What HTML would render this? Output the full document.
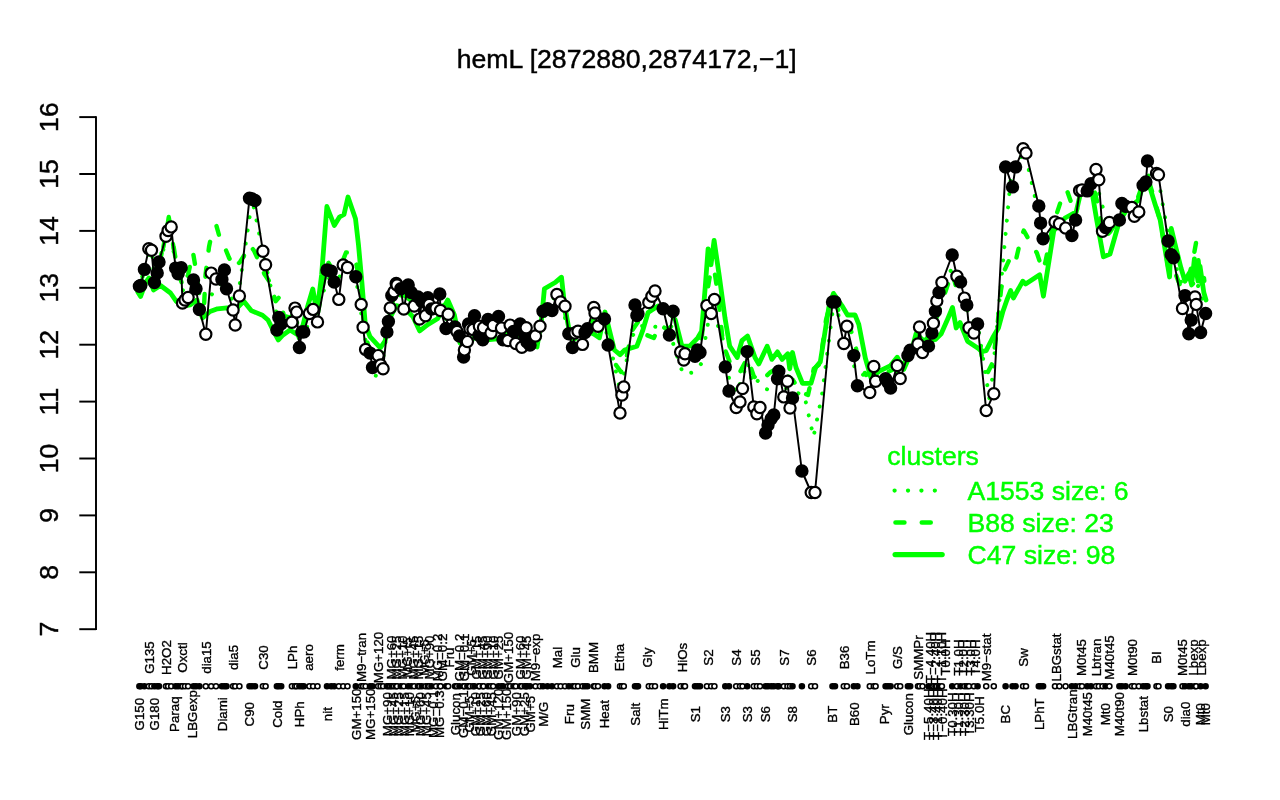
<!DOCTYPE html>
<html lang="en"><head><meta charset="utf-8"><title>hemL expression profile</title>
<style>
html,body{margin:0;padding:0;background:#fff;}
body{width:1280px;height:800px;overflow:hidden;}
svg{display:block;}
text{font-family:"Liberation Sans",Arial,Helvetica,sans-serif;}
.t{font-size:26.6px;stroke:currentColor;stroke-width:0.45px;}
.s{font-size:13.3px;stroke:#000;stroke-width:0.35px;}
.g{fill:none;stroke:#00ff00;stroke-linecap:round;stroke-linejoin:round;}
.k{fill:none;stroke:#000;stroke-width:1.95;stroke-linecap:round;stroke-linejoin:round;}
.pf{fill:#000;stroke:#000;stroke-width:2.2;}
.po{fill:#fff;stroke:#000;stroke-width:2.2;}
.qf{fill:#000;stroke:#000;stroke-width:1.6;}
.qo{fill:#fff;stroke:#000;stroke-width:1.6;}
</style></head>
<body>
<svg width="1280" height="800" viewBox="0 0 1280 800">
<rect width="1280" height="800" fill="#fff"/>
<text class="t" x="626.7" y="67.6" text-anchor="middle">hemL [2872880,2874172,−1]</text>
<g class="k" style="stroke-linecap:butt"><path d="M96 116.2 V630.1"/><path d="M79.3 629.2 H96"/><path d="M79.3 572.3 H96"/><path d="M79.3 515.4 H96"/><path d="M79.3 458.5 H96"/><path d="M79.3 401.6 H96"/><path d="M79.3 344.7 H96"/><path d="M79.3 287.8 H96"/><path d="M79.3 230.9 H96"/><path d="M79.3 174 H96"/><path d="M79.3 117.1 H96"/></g>
<text class="t" text-anchor="middle" transform="translate(58 629.2) rotate(-90)">7</text>
<text class="t" text-anchor="middle" transform="translate(58 572.3) rotate(-90)">8</text>
<text class="t" text-anchor="middle" transform="translate(58 515.4) rotate(-90)">9</text>
<text class="t" text-anchor="middle" transform="translate(58 458.5) rotate(-90)">10</text>
<text class="t" text-anchor="middle" transform="translate(58 401.6) rotate(-90)">11</text>
<text class="t" text-anchor="middle" transform="translate(58 344.7) rotate(-90)">12</text>
<text class="t" text-anchor="middle" transform="translate(58 287.8) rotate(-90)">13</text>
<text class="t" text-anchor="middle" transform="translate(58 230.9) rotate(-90)">14</text>
<text class="t" text-anchor="middle" transform="translate(58 174) rotate(-90)">15</text>
<text class="t" text-anchor="middle" transform="translate(58 117.1) rotate(-90)">16</text>
<path class="g" stroke-width="4" stroke-dasharray="0.01 13.3" d="M141.5 280.4L150.1 249.5L156.9 272.5L168.5 231.2L178.3 269.9L185.2 300.2L196.3 292.8L211 295.4L224.3 279.4L235.9 310.3L252.2 199.2L264.2 258L279 323.8L294.5 314.2L301.7 337.1L313.3 314.9L330.8 274.4L343.2 277.3L355.8 276.8L363.3 327L371.2 374.3L380.6 377.1L389.9 310L395.8 286.8L402.2 298.9L412 297.4L419.8 305.9L427.5 306L433.8 308.6L440.1 302.2L447.1 321.4L456 329.2L463.7 346.1L470 326.6L478.1 325.9L483.1 333.8L490.1 324.4L501 328.1L511.2 332.1L518 333.8L524.2 336.8L528.5 343.5L537.8 331.1L547.5 310.2L560.8 300.8L570.6 340.6L578.5 336.2L586.2 330.6L595.6 315.6L606.3 332L610 345L620.5 392L631 338L633 335L640 326L650 325.6L661 328L668 333L672 340L683 374L693 372.5L701 364L710.9 306.2L725 345L729 378L737 393L742 378L747.5 362L753 385L758 380.6L763 387.5L770 390.6L778 381L786 388L795 392L804.4 395.6L813.5 437L822 395L833.8 301.9L845.3 334.9L855.6 370.7L873 380.1L888.1 383.1L898.8 372.1L909 352.9L920 341.1L931.8 331.4L937.1 301.6L941.9 282.5L954.6 265.6L962.5 290L969.1 317.7L977.6 324L990 402.2L1011.2 173.6L1024.5 150.9L1040.8 222.6L1060 224.6L1073.8 227.8L1080.8 190.3L1089.1 187.3L1099.1 193.5L1107.5 225L1122.3 209.9L1135 211.9L1145.5 176.1L1157.5 174.1L1170.9 251.2L1182.5 286.5L1188.3 294.4L1195.6 278.6L1203.1 301"/>
<path class="g" stroke-width="4.4" stroke-dasharray="9 17.3" stroke-dashoffset="13" d="M138 289L143 275L148 262L152 262L156 278L160 262L163 245L168.8 216L173.4 245L177 268L183 287L188 275L193 252.5L196 270L200 302L203.5 318L205.5 275L209 247L211.5 235L216.5 226L219.4 236.5L225 247.8L228.8 257.2L234 268L240 262L244.7 254.4L249.5 245L254 250.6L257.8 259L264.4 274L270 282.5L275.6 301.2L279.4 297L284 316L292 318L299 338L305 322L311 310L317 318L323 285L328 262L334 272L340 268L346 252.5L350.6 252.5L356 262L361 290L364 325L368 345L373 362L381 360L386 335L391 305L398 292L405 296L415 304L422 318L430 310L440 306L448 305L455 322L462 348L470 335L480 332L492 332L505 334L520 332L532 340L538 338L543 312L550 304L558 292L563 298L567 325L573 340L580 336L588 330L595 318L600 330L606 322L610 342L616 365L621 372L626 360L630 340L632.5 330L638 322L645 334.4L653.8 338L660 325L668 330L675 322L681 350L688 358L696 352L702 335L706 300L710 275L714 268L718 295L722.5 338.8L726.2 352.5L732 368L740 372L747.5 358L753.8 376.2L760 382L765 377.5L770 372.5L778 368L786 375L793 380L800 392L808 395L813.8 368.8L820 363.8L826 320L831.2 300L836.2 305L843 322L850 328L855 342.5L858 360L866 375L874 372L884 374L892 370L899 366L906 358L912 348L918 338L926 340L934 325L940 308L946 290L952 272L957 290L962 296L967 312L972 328L978 330L983 365L988 372L993 362L998 320L1001 290L1004.6 270L1012.5 253L1016.2 258.8L1021 238L1023.8 230.6L1032.2 245.6L1036.9 253L1042.5 270L1045.3 262.5L1053 225L1062.2 197L1066.9 190.3L1072 205L1078 192L1086 186L1093 185L1098 205L1104 238L1110 232L1119 218L1126 205L1135 206L1142 186L1148 178L1154 198L1160 220L1165 248L1170 278L1176 275L1181 288L1187 282L1192 265L1196 243L1198 256L1201 285L1204 278L1206 296"/>
<path class="g" stroke-width="4.4" d="M166.3 233L168.75 217L170.3 226M163.4 247L164.6 240M173 244L173.8 249"/>
<path class="g" stroke-width="4.8" d="M137.8 292L140.6 296.5L146 282L149 278L153.5 290L160.5 285.5L170.5 293L176.3 301.3L182 306.5L190 305L197 300L202.5 318L210 311.5L217.5 308.8L227 307.8L236 309L243.8 301.3L251.2 310.6L262.5 315.3L268 320L273 330L278.4 340L283 335L290 330L298 335L303 325L307.5 306.9L312.8 289L316.9 312.5L321.6 275L326.9 206.5L334.3 225.5L339.5 217L344 214.5L348 197L355.5 218.8L358.5 245L361.9 282.5L365.3 324.4L370 336.6L380.3 347.8L385 341.2L390 318L396.2 305.6L403.8 307.5L413.1 316.9L419.7 330.9L428.1 324.4L437.5 318.8L447.8 300L454.4 315L460 343L466 348L475 336L485 340L492 339.4L505 338L520 335.6L530 343L537 347L541.6 318.8L544.4 288.8L555.6 282.2L561.5 277.2L564.3 303L568.6 327.5L575 334L585 330L593.8 334L599.4 337.8L605 312L609.7 331.2L614.4 350L620 354.7L624.7 350L636.9 346.2L642.5 331.2L648.1 312.5L653.8 308.8L658 306L666 308L675.3 320L681.9 346.2L690 346L697.8 337.8L701.6 331.2L705.3 286.2L708.1 248.8L711 264.7L714.1 240.3L719.4 276.9L725 318L729.7 346.2L737.2 357.5L741.9 340.6L747.5 336L755 357.5L758.8 364L767.2 346.2L771.9 359.4L777.5 351.9L782.2 359.4L787.8 353.8L789.7 368.8L792.5 352.5L796 367.5L802.5 383.4L811 383.4L815.6 367.5L820.3 361.9L828.8 307.5L833.4 293.4L841.9 305.6L847.5 315L855 315L858.8 324.4L865.3 358L871 377.8L879.4 371.2L890.6 365.6L897.2 357.2L903.8 369.4L911.2 352.5L916 333.8L925 342L935.6 339.4L941.2 333.8L947.8 318.8L952.5 307.5L956.2 328L960 322.5L967.5 341.2L978.8 348.8L981.6 351.6L986.2 350.6L992.8 337.5L998.4 328L1003 311.2L1006.9 300L1010.6 290.6L1013.4 298L1022.8 281.2L1025.6 284L1039.7 274.7L1043.4 296.2L1053.8 230.6L1065 218L1076.2 211.9L1081 191.2L1092.2 193L1096.9 221.2L1103.4 256.9L1110 254L1119.4 221.2L1128 208L1138 200.6L1141.9 189.4L1149.4 185.6L1155 204L1160.2 220L1169.6 277L1171.3 228.5L1176 248L1181 268L1185 281.2L1188.8 273.8L1191.6 285L1194.4 258.8L1198 281.2L1200 266.2L1203.8 292.5L1206 300"/>
<path class="k" d="M139.4 286.3L140.8 285.5L144.4 269.4L148.8 248.8L151.5 250.2L154.4 282.5L157.2 273.1L159 261.9L166 236.2L168.1 230.6L171.2 226.9L175.6 268.1L178.1 273.8L181.2 267.8L182.5 303.1L185 300L188.1 297.5L193.5 280L196 288.8L199.4 309.5L205.8 334.2L211.2 273.1L216 279L221.9 279.4L224.4 270L226.5 288.8L233.1 310L235.2 325L239.4 296L249.5 198.2L252 199L255 200.5L262.9 251.2L265.6 264.8L276.9 330L278.8 317.5L281.2 323.8L291.9 322.2L295 308.1L296.6 312.1L299.4 347.5L301.9 331.9L303.8 331.9L309.4 313.5L313.1 309.4L317.5 321.9L327 270L331.2 271.2L334.2 282L338.8 299.4L343.2 265L347.5 267.5L355.8 276.8L361.2 304.4L363.1 327.2L365.6 349.4L370 353.1L372.5 367.5L378.1 355.6L380.6 365L383.1 368.8L386.9 331.9L388.4 321.5L390.2 307.9L391.8 295.5L394 291.8L396.2 283.5L397 285L400.8 288.8L403.8 309L408.2 285L411.2 292.5L414.2 306L418 297L419.5 319.1L421.8 301.5L425.5 315.8L427.8 297.8L429.2 304.5L431.5 309L436 308.2L439.8 294L440.5 310.5L446 328.5L448.2 314.2L455 327L457 331.5L459.5 336L463.6 357L464.4 349.9L467.4 341.6L468.5 324L470 328.9L473 329.6L474.5 315.8L479 335.2L479.4 326.2L482.8 339.8L483.5 327.8L488 319.5L491 333L493.2 325.5L498.5 316.5L501.5 328.1L503 339.8L507.9 340.5L510.1 325.1L513.5 331.5L515.8 343.5L520.2 324L521.8 347.2L524.8 335.2L526.2 327.8L527 342L530 345L535.5 336L540 326.2L543 311.2L547.5 308.8L552 310.6L556.9 294.4L560.6 301.9L565 306.2L568.8 333.8L572.5 347.5L575 333L578 331.2L582.5 344.4L585 332.5L587.5 328.8L593.8 307.5L595 313L598 326.2L604.5 319L608.1 345L620 413.1L621.9 395L623.8 386.9L635 305L636.9 315.6L638 313.8L648.8 302.5L651.9 296.2L655 291L663.1 308.8L669.4 335L673.1 311.2L680.6 351.9L683.8 360L685 353.8L695 356.2L697.5 350L700 352.5L706.9 305.6L711.2 313.5L714.4 299.4L725.3 366.9L729 391L736.2 407.5L740 401.9L742.5 388.6L747.2 351.6L753.8 406.9L756.9 413.8L760 407.5L765.6 433.1L768 425L771.2 418.8L773.8 415L777.5 378.8L778.8 371.2L783.8 396.9L787.5 381.2L790 408L792.5 398L801.9 471L811.2 492.5L815 492.5L832.5 301.9L835 301.9L843.8 343.5L846.9 326.2L853.8 355.6L857.4 385.8L869.8 392.5L873.8 366.5L875.6 381.2L885.6 378.8L888 382.5L890.6 388L897.2 365.6L900.2 378.5L907.9 355.5L910.2 350.3L918 343.9L919.5 327L922.5 352.5L928.5 346.1L931.9 333L933.4 323.2L935.4 311.2L936.8 301L939 292.5L941.9 282.5L952.2 255L956.9 276.2L960.6 281.9L964.4 298.1L966.8 305.1L969 327.8L973.9 333L977.6 324L986.2 410.6L993.8 393.8L1005.6 166.9L1012.5 186.9L1015.6 166.9L1023.1 148.8L1026 153.1L1038.8 206L1040.6 223.1L1043.1 238.8L1055 221.9L1059.4 223.8L1065.6 228.1L1071.9 235.6L1075.6 220L1079.6 190.6L1082 190L1087.2 190.9L1091 183.8L1096 169.4L1098.8 179.8L1102.5 231.2L1105.6 227.5L1109.4 222.5L1119.4 220L1121.9 203.5L1125.6 206.2L1131.9 207.5L1134.4 216.2L1138.8 211.9L1143.1 185.3L1145.9 181.9L1147.5 161L1156.5 173.5L1158.5 174.8L1168.1 241L1171.2 254.7L1173.4 257.8L1182.5 308.5L1185 295.6L1188.8 333.8L1191.2 320L1195 296.9L1196.2 304.4L1200.6 332.5L1205.6 313.5"/>
<g><circle class="pf" cx="139.4" cy="286.3" r="5.6"/><circle class="pf" cx="140.8" cy="285.5" r="5.6"/><circle class="pf" cx="144.4" cy="269.4" r="5.6"/><circle class="po" cx="148.8" cy="248.8" r="5.6"/><circle class="po" cx="151.5" cy="250.2" r="5.6"/><circle class="pf" cx="154.4" cy="282.5" r="5.6"/><circle class="pf" cx="157.2" cy="273.1" r="5.6"/><circle class="pf" cx="159" cy="261.9" r="5.6"/><circle class="po" cx="166" cy="236.2" r="5.6"/><circle class="po" cx="168.1" cy="230.6" r="5.6"/><circle class="po" cx="171.2" cy="226.9" r="5.6"/><circle class="pf" cx="175.6" cy="268.1" r="5.6"/><circle class="pf" cx="178.1" cy="273.8" r="5.6"/><circle class="pf" cx="181.2" cy="267.8" r="5.6"/><circle class="po" cx="182.5" cy="303.1" r="5.6"/><circle class="po" cx="185" cy="300" r="5.6"/><circle class="po" cx="188.1" cy="297.5" r="5.6"/><circle class="pf" cx="193.5" cy="280" r="5.6"/><circle class="pf" cx="196" cy="288.8" r="5.6"/><circle class="pf" cx="199.4" cy="309.5" r="5.6"/><circle class="po" cx="205.8" cy="334.2" r="5.6"/><circle class="po" cx="211.2" cy="273.1" r="5.6"/><circle class="po" cx="216" cy="279" r="5.6"/><circle class="pf" cx="221.9" cy="279.4" r="5.6"/><circle class="pf" cx="224.4" cy="270" r="5.6"/><circle class="pf" cx="226.5" cy="288.8" r="5.6"/><circle class="po" cx="233.1" cy="310" r="5.6"/><circle class="po" cx="235.2" cy="325" r="5.6"/><circle class="po" cx="239.4" cy="296" r="5.6"/><circle class="pf" cx="249.5" cy="198.2" r="5.6"/><circle class="pf" cx="252" cy="199" r="5.6"/><circle class="pf" cx="255" cy="200.5" r="5.6"/><circle class="po" cx="262.9" cy="251.2" r="5.6"/><circle class="po" cx="265.6" cy="264.8" r="5.6"/><circle class="pf" cx="276.9" cy="330" r="5.6"/><circle class="pf" cx="278.8" cy="317.5" r="5.6"/><circle class="pf" cx="281.2" cy="323.8" r="5.6"/><circle class="po" cx="291.9" cy="322.2" r="5.6"/><circle class="po" cx="295" cy="308.1" r="5.6"/><circle class="po" cx="296.6" cy="312.1" r="5.6"/><circle class="pf" cx="299.4" cy="347.5" r="5.6"/><circle class="pf" cx="301.9" cy="331.9" r="5.6"/><circle class="pf" cx="303.8" cy="331.9" r="5.6"/><circle class="po" cx="309.4" cy="313.5" r="5.6"/><circle class="po" cx="313.1" cy="309.4" r="5.6"/><circle class="po" cx="317.5" cy="321.9" r="5.6"/><circle class="pf" cx="327" cy="270" r="5.6"/><circle class="pf" cx="331.2" cy="271.2" r="5.6"/><circle class="pf" cx="334.2" cy="282" r="5.6"/><circle class="po" cx="338.8" cy="299.4" r="5.6"/><circle class="po" cx="343.2" cy="265" r="5.6"/><circle class="po" cx="347.5" cy="267.5" r="5.6"/><circle class="pf" cx="355.8" cy="276.8" r="5.6"/><circle class="po" cx="361.2" cy="304.4" r="5.6"/><circle class="po" cx="363.1" cy="327.2" r="5.6"/><circle class="po" cx="365.6" cy="349.4" r="5.6"/><circle class="pf" cx="370" cy="353.1" r="5.6"/><circle class="pf" cx="372.5" cy="367.5" r="5.6"/><circle class="po" cx="378.1" cy="355.6" r="5.6"/><circle class="po" cx="380.6" cy="365" r="5.6"/><circle class="po" cx="383.1" cy="368.8" r="5.6"/><circle class="pf" cx="386.9" cy="331.9" r="5.6"/><circle class="pf" cx="388.4" cy="321.5" r="5.6"/><circle class="po" cx="390.2" cy="307.9" r="5.6"/><circle class="pf" cx="391.8" cy="295.5" r="5.6"/><circle class="po" cx="394" cy="291.8" r="5.6"/><circle class="pf" cx="396.2" cy="283.5" r="5.6"/><circle class="po" cx="397" cy="285" r="5.6"/><circle class="pf" cx="400.8" cy="288.8" r="5.6"/><circle class="po" cx="403.8" cy="309" r="5.6"/><circle class="pf" cx="408.2" cy="285" r="5.6"/><circle class="pf" cx="411.2" cy="292.5" r="5.6"/><circle class="po" cx="414.2" cy="306" r="5.6"/><circle class="pf" cx="418" cy="297" r="5.6"/><circle class="po" cx="419.5" cy="319.1" r="5.6"/><circle class="pf" cx="421.8" cy="301.5" r="5.6"/><circle class="po" cx="425.5" cy="315.8" r="5.6"/><circle class="pf" cx="427.8" cy="297.8" r="5.6"/><circle class="po" cx="429.2" cy="304.5" r="5.6"/><circle class="pf" cx="431.5" cy="309" r="5.6"/><circle class="po" cx="436" cy="308.2" r="5.6"/><circle class="pf" cx="439.8" cy="294" r="5.6"/><circle class="po" cx="440.5" cy="310.5" r="5.6"/><circle class="pf" cx="446" cy="328.5" r="5.6"/><circle class="po" cx="448.2" cy="314.2" r="5.6"/><circle class="pf" cx="455" cy="327" r="5.6"/><circle class="po" cx="457" cy="331.5" r="5.6"/><circle class="pf" cx="459.5" cy="336" r="5.6"/><circle class="pf" cx="463.6" cy="357" r="5.6"/><circle class="po" cx="464.4" cy="349.9" r="5.6"/><circle class="po" cx="467.4" cy="341.6" r="5.6"/><circle class="pf" cx="468.5" cy="324" r="5.6"/><circle class="po" cx="470" cy="328.9" r="5.6"/><circle class="po" cx="473" cy="329.6" r="5.6"/><circle class="pf" cx="474.5" cy="315.8" r="5.6"/><circle class="pf" cx="479" cy="335.2" r="5.6"/><circle class="po" cx="479.4" cy="326.2" r="5.6"/><circle class="pf" cx="482.8" cy="339.8" r="5.6"/><circle class="po" cx="483.5" cy="327.8" r="5.6"/><circle class="pf" cx="488" cy="319.5" r="5.6"/><circle class="po" cx="491" cy="333" r="5.6"/><circle class="po" cx="493.2" cy="325.5" r="5.6"/><circle class="pf" cx="498.5" cy="316.5" r="5.6"/><circle class="po" cx="501.5" cy="328.1" r="5.6"/><circle class="pf" cx="503" cy="339.8" r="5.6"/><circle class="po" cx="507.9" cy="340.5" r="5.6"/><circle class="po" cx="510.1" cy="325.1" r="5.6"/><circle class="pf" cx="513.5" cy="331.5" r="5.6"/><circle class="po" cx="515.8" cy="343.5" r="5.6"/><circle class="pf" cx="520.2" cy="324" r="5.6"/><circle class="po" cx="521.8" cy="347.2" r="5.6"/><circle class="pf" cx="524.8" cy="335.2" r="5.6"/><circle class="po" cx="526.2" cy="327.8" r="5.6"/><circle class="pf" cx="527" cy="342" r="5.6"/><circle class="pf" cx="530" cy="345" r="5.6"/><circle class="po" cx="535.5" cy="336" r="5.6"/><circle class="po" cx="540" cy="326.2" r="5.6"/><circle class="pf" cx="543" cy="311.2" r="5.6"/><circle class="pf" cx="547.5" cy="308.8" r="5.6"/><circle class="pf" cx="552" cy="310.6" r="5.6"/><circle class="po" cx="556.9" cy="294.4" r="5.6"/><circle class="po" cx="560.6" cy="301.9" r="5.6"/><circle class="po" cx="565" cy="306.2" r="5.6"/><circle class="pf" cx="568.8" cy="333.8" r="5.6"/><circle class="pf" cx="572.5" cy="347.5" r="5.6"/><circle class="po" cx="575" cy="333" r="5.6"/><circle class="po" cx="578" cy="331.2" r="5.6"/><circle class="po" cx="582.5" cy="344.4" r="5.6"/><circle class="pf" cx="585" cy="332.5" r="5.6"/><circle class="pf" cx="587.5" cy="328.8" r="5.6"/><circle class="po" cx="593.8" cy="307.5" r="5.6"/><circle class="po" cx="595" cy="313" r="5.6"/><circle class="po" cx="598" cy="326.2" r="5.6"/><circle class="pf" cx="604.5" cy="319" r="5.6"/><circle class="pf" cx="608.1" cy="345" r="5.6"/><circle class="po" cx="620" cy="413.1" r="5.6"/><circle class="po" cx="621.9" cy="395" r="5.6"/><circle class="po" cx="623.8" cy="386.9" r="5.6"/><circle class="pf" cx="635" cy="305" r="5.6"/><circle class="pf" cx="636.9" cy="315.6" r="5.6"/><circle class="pf" cx="638" cy="313.8" r="5.6"/><circle class="po" cx="648.8" cy="302.5" r="5.6"/><circle class="po" cx="651.9" cy="296.2" r="5.6"/><circle class="po" cx="655" cy="291" r="5.6"/><circle class="pf" cx="663.1" cy="308.8" r="5.6"/><circle class="pf" cx="669.4" cy="335" r="5.6"/><circle class="pf" cx="673.1" cy="311.2" r="5.6"/><circle class="po" cx="680.6" cy="351.9" r="5.6"/><circle class="po" cx="683.8" cy="360" r="5.6"/><circle class="po" cx="685" cy="353.8" r="5.6"/><circle class="pf" cx="695" cy="356.2" r="5.6"/><circle class="pf" cx="697.5" cy="350" r="5.6"/><circle class="pf" cx="700" cy="352.5" r="5.6"/><circle class="po" cx="706.9" cy="305.6" r="5.6"/><circle class="po" cx="711.2" cy="313.5" r="5.6"/><circle class="po" cx="714.4" cy="299.4" r="5.6"/><circle class="pf" cx="725.3" cy="366.9" r="5.6"/><circle class="pf" cx="729" cy="391" r="5.6"/><circle class="po" cx="736.2" cy="407.5" r="5.6"/><circle class="po" cx="740" cy="401.9" r="5.6"/><circle class="po" cx="742.5" cy="388.6" r="5.6"/><circle class="pf" cx="747.2" cy="351.6" r="5.6"/><circle class="po" cx="753.8" cy="406.9" r="5.6"/><circle class="po" cx="756.9" cy="413.8" r="5.6"/><circle class="po" cx="760" cy="407.5" r="5.6"/><circle class="pf" cx="765.6" cy="433.1" r="5.6"/><circle class="pf" cx="768" cy="425" r="5.6"/><circle class="pf" cx="771.2" cy="418.8" r="5.6"/><circle class="pf" cx="773.8" cy="415" r="5.6"/><circle class="pf" cx="777.5" cy="378.8" r="5.6"/><circle class="pf" cx="778.8" cy="371.2" r="5.6"/><circle class="po" cx="783.8" cy="396.9" r="5.6"/><circle class="po" cx="787.5" cy="381.2" r="5.6"/><circle class="po" cx="790" cy="408" r="5.6"/><circle class="pf" cx="792.5" cy="398" r="5.6"/><circle class="pf" cx="801.9" cy="471" r="5.6"/><circle class="po" cx="811.2" cy="492.5" r="5.6"/><circle class="po" cx="815" cy="492.5" r="5.6"/><circle class="pf" cx="832.5" cy="301.9" r="5.6"/><circle class="pf" cx="835" cy="301.9" r="5.6"/><circle class="po" cx="843.8" cy="343.5" r="5.6"/><circle class="po" cx="846.9" cy="326.2" r="5.6"/><circle class="pf" cx="853.8" cy="355.6" r="5.6"/><circle class="pf" cx="857.4" cy="385.8" r="5.6"/><circle class="po" cx="869.8" cy="392.5" r="5.6"/><circle class="po" cx="873.8" cy="366.5" r="5.6"/><circle class="po" cx="875.6" cy="381.2" r="5.6"/><circle class="pf" cx="885.6" cy="378.8" r="5.6"/><circle class="pf" cx="888" cy="382.5" r="5.6"/><circle class="pf" cx="890.6" cy="388" r="5.6"/><circle class="po" cx="897.2" cy="365.6" r="5.6"/><circle class="po" cx="900.2" cy="378.5" r="5.6"/><circle class="pf" cx="907.9" cy="355.5" r="5.6"/><circle class="pf" cx="910.2" cy="350.3" r="5.6"/><circle class="po" cx="918" cy="343.9" r="5.6"/><circle class="po" cx="919.5" cy="327" r="5.6"/><circle class="po" cx="922.5" cy="352.5" r="5.6"/><circle class="pf" cx="928.5" cy="346.1" r="5.6"/><circle class="pf" cx="931.9" cy="333" r="5.6"/><circle class="po" cx="933.4" cy="323.2" r="5.6"/><circle class="pf" cx="935.4" cy="311.2" r="5.6"/><circle class="po" cx="936.8" cy="301" r="5.6"/><circle class="pf" cx="939" cy="292.5" r="5.6"/><circle class="po" cx="941.9" cy="282.5" r="5.6"/><circle class="pf" cx="952.2" cy="255" r="5.6"/><circle class="po" cx="956.9" cy="276.2" r="5.6"/><circle class="pf" cx="960.6" cy="281.9" r="5.6"/><circle class="po" cx="964.4" cy="298.1" r="5.6"/><circle class="pf" cx="966.8" cy="305.1" r="5.6"/><circle class="po" cx="969" cy="327.8" r="5.6"/><circle class="po" cx="973.9" cy="333" r="5.6"/><circle class="pf" cx="977.6" cy="324" r="5.6"/><circle class="po" cx="986.2" cy="410.6" r="5.6"/><circle class="po" cx="993.8" cy="393.8" r="5.6"/><circle class="pf" cx="1005.6" cy="166.9" r="5.6"/><circle class="pf" cx="1012.5" cy="186.9" r="5.6"/><circle class="pf" cx="1015.6" cy="166.9" r="5.6"/><circle class="po" cx="1023.1" cy="148.8" r="5.6"/><circle class="po" cx="1026" cy="153.1" r="5.6"/><circle class="pf" cx="1038.8" cy="206" r="5.6"/><circle class="pf" cx="1040.6" cy="223.1" r="5.6"/><circle class="pf" cx="1043.1" cy="238.8" r="5.6"/><circle class="po" cx="1055" cy="221.9" r="5.6"/><circle class="po" cx="1059.4" cy="223.8" r="5.6"/><circle class="po" cx="1065.6" cy="228.1" r="5.6"/><circle class="pf" cx="1071.9" cy="235.6" r="5.6"/><circle class="pf" cx="1075.6" cy="220" r="5.6"/><circle class="po" cx="1079.6" cy="190.6" r="5.6"/><circle class="po" cx="1082" cy="190" r="5.6"/><circle class="pf" cx="1087.2" cy="190.9" r="5.6"/><circle class="pf" cx="1091" cy="183.8" r="5.6"/><circle class="po" cx="1096" cy="169.4" r="5.6"/><circle class="po" cx="1098.8" cy="179.8" r="5.6"/><circle class="po" cx="1102.5" cy="231.2" r="5.6"/><circle class="pf" cx="1105.6" cy="227.5" r="5.6"/><circle class="po" cx="1109.4" cy="222.5" r="5.6"/><circle class="pf" cx="1119.4" cy="220" r="5.6"/><circle class="pf" cx="1121.9" cy="203.5" r="5.6"/><circle class="pf" cx="1125.6" cy="206.2" r="5.6"/><circle class="po" cx="1131.9" cy="207.5" r="5.6"/><circle class="po" cx="1134.4" cy="216.2" r="5.6"/><circle class="po" cx="1138.8" cy="211.9" r="5.6"/><circle class="pf" cx="1143.1" cy="185.3" r="5.6"/><circle class="pf" cx="1145.9" cy="181.9" r="5.6"/><circle class="pf" cx="1147.5" cy="161" r="5.6"/><circle class="po" cx="1156.5" cy="173.5" r="5.6"/><circle class="po" cx="1158.5" cy="174.8" r="5.6"/><circle class="pf" cx="1168.1" cy="241" r="5.6"/><circle class="pf" cx="1171.2" cy="254.7" r="5.6"/><circle class="pf" cx="1173.4" cy="257.8" r="5.6"/><circle class="po" cx="1182.5" cy="308.5" r="5.6"/><circle class="pf" cx="1185" cy="295.6" r="5.6"/><circle class="pf" cx="1188.8" cy="333.8" r="5.6"/><circle class="pf" cx="1191.2" cy="320" r="5.6"/><circle class="po" cx="1195" cy="296.9" r="5.6"/><circle class="po" cx="1196.2" cy="304.4" r="5.6"/><circle class="pf" cx="1200.6" cy="332.5" r="5.6"/><circle class="pf" cx="1205.6" cy="313.5" r="5.6"/></g>
<g fill="#00ff00" color="#00ff00" stroke="#00ff00"><text class="t" x="887.3" y="465">clusters</text><text class="t" x="967.5" y="500">A1553 size: 6</text><text class="t" x="967.5" y="531.8">B88 size: 23</text><text class="t" x="967.5" y="563.7">C47 size: 98</text></g>
<path class="g" stroke-width="4.3" stroke-dasharray="0.01 13.4" d="M894.6 490.6H942"/>
<path class="g" stroke-width="4.6" stroke-dasharray="8.9 17.4" d="M895.5 522.5H942"/>
<path class="g" stroke-width="5.2" d="M895.1 554.6H942.2"/>
<g><circle class="qf" cx="139.4" cy="686.2" r="2.5"/><circle class="qf" cx="140.8" cy="686.2" r="2.5"/><circle class="qf" cx="144.4" cy="686.2" r="2.5"/><circle class="qo" cx="148.8" cy="686.2" r="2.5"/><circle class="qo" cx="151.5" cy="686.2" r="2.5"/><circle class="qf" cx="154.4" cy="686.2" r="2.5"/><circle class="qf" cx="157.2" cy="686.2" r="2.5"/><circle class="qf" cx="159" cy="686.2" r="2.5"/><circle class="qo" cx="166" cy="686.2" r="2.5"/><circle class="qo" cx="168.1" cy="686.2" r="2.5"/><circle class="qo" cx="171.2" cy="686.2" r="2.5"/><circle class="qf" cx="175.6" cy="686.2" r="2.5"/><circle class="qf" cx="178.1" cy="686.2" r="2.5"/><circle class="qf" cx="181.2" cy="686.2" r="2.5"/><circle class="qo" cx="182.5" cy="686.2" r="2.5"/><circle class="qo" cx="185" cy="686.2" r="2.5"/><circle class="qo" cx="188.1" cy="686.2" r="2.5"/><circle class="qf" cx="193.5" cy="686.2" r="2.5"/><circle class="qf" cx="196" cy="686.2" r="2.5"/><circle class="qf" cx="199.4" cy="686.2" r="2.5"/><circle class="qo" cx="205.8" cy="686.2" r="2.5"/><circle class="qo" cx="211.2" cy="686.2" r="2.5"/><circle class="qo" cx="216" cy="686.2" r="2.5"/><circle class="qf" cx="221.9" cy="686.2" r="2.5"/><circle class="qf" cx="224.4" cy="686.2" r="2.5"/><circle class="qf" cx="226.5" cy="686.2" r="2.5"/><circle class="qo" cx="233.1" cy="686.2" r="2.5"/><circle class="qo" cx="235.2" cy="686.2" r="2.5"/><circle class="qo" cx="239.4" cy="686.2" r="2.5"/><circle class="qf" cx="249.5" cy="686.2" r="2.5"/><circle class="qf" cx="252" cy="686.2" r="2.5"/><circle class="qf" cx="255" cy="686.2" r="2.5"/><circle class="qo" cx="262.9" cy="686.2" r="2.5"/><circle class="qo" cx="265.6" cy="686.2" r="2.5"/><circle class="qf" cx="276.9" cy="686.2" r="2.5"/><circle class="qf" cx="278.8" cy="686.2" r="2.5"/><circle class="qf" cx="281.2" cy="686.2" r="2.5"/><circle class="qo" cx="291.9" cy="686.2" r="2.5"/><circle class="qo" cx="295" cy="686.2" r="2.5"/><circle class="qo" cx="296.6" cy="686.2" r="2.5"/><circle class="qf" cx="299.4" cy="686.2" r="2.5"/><circle class="qf" cx="301.9" cy="686.2" r="2.5"/><circle class="qf" cx="303.8" cy="686.2" r="2.5"/><circle class="qo" cx="309.4" cy="686.2" r="2.5"/><circle class="qo" cx="313.1" cy="686.2" r="2.5"/><circle class="qo" cx="317.5" cy="686.2" r="2.5"/><circle class="qf" cx="327" cy="686.2" r="2.5"/><circle class="qf" cx="331.2" cy="686.2" r="2.5"/><circle class="qf" cx="334.2" cy="686.2" r="2.5"/><circle class="qo" cx="338.8" cy="686.2" r="2.5"/><circle class="qo" cx="343.2" cy="686.2" r="2.5"/><circle class="qo" cx="347.5" cy="686.2" r="2.5"/><circle class="qf" cx="355.8" cy="686.2" r="2.5"/><circle class="qo" cx="361.2" cy="686.2" r="2.5"/><circle class="qo" cx="363.1" cy="686.2" r="2.5"/><circle class="qo" cx="365.6" cy="686.2" r="2.5"/><circle class="qf" cx="370" cy="686.2" r="2.5"/><circle class="qf" cx="372.5" cy="686.2" r="2.5"/><circle class="qo" cx="378.1" cy="686.2" r="2.5"/><circle class="qo" cx="380.6" cy="686.2" r="2.5"/><circle class="qo" cx="383.1" cy="686.2" r="2.5"/><circle class="qf" cx="386.9" cy="686.2" r="2.5"/><circle class="qf" cx="388.4" cy="686.2" r="2.5"/><circle class="qo" cx="390.2" cy="686.2" r="2.5"/><circle class="qf" cx="391.8" cy="686.2" r="2.5"/><circle class="qo" cx="394" cy="686.2" r="2.5"/><circle class="qf" cx="396.2" cy="686.2" r="2.5"/><circle class="qo" cx="397" cy="686.2" r="2.5"/><circle class="qf" cx="400.8" cy="686.2" r="2.5"/><circle class="qo" cx="403.8" cy="686.2" r="2.5"/><circle class="qf" cx="408.2" cy="686.2" r="2.5"/><circle class="qf" cx="411.2" cy="686.2" r="2.5"/><circle class="qo" cx="414.2" cy="686.2" r="2.5"/><circle class="qf" cx="418" cy="686.2" r="2.5"/><circle class="qo" cx="419.5" cy="686.2" r="2.5"/><circle class="qf" cx="421.8" cy="686.2" r="2.5"/><circle class="qo" cx="425.5" cy="686.2" r="2.5"/><circle class="qf" cx="427.8" cy="686.2" r="2.5"/><circle class="qo" cx="429.2" cy="686.2" r="2.5"/><circle class="qf" cx="431.5" cy="686.2" r="2.5"/><circle class="qo" cx="436" cy="686.2" r="2.5"/><circle class="qf" cx="439.8" cy="686.2" r="2.5"/><circle class="qo" cx="440.5" cy="686.2" r="2.5"/><circle class="qf" cx="446" cy="686.2" r="2.5"/><circle class="qo" cx="448.2" cy="686.2" r="2.5"/><circle class="qf" cx="455" cy="686.2" r="2.5"/><circle class="qo" cx="457" cy="686.2" r="2.5"/><circle class="qf" cx="459.5" cy="686.2" r="2.5"/><circle class="qf" cx="463.6" cy="686.2" r="2.5"/><circle class="qo" cx="464.4" cy="686.2" r="2.5"/><circle class="qo" cx="467.4" cy="686.2" r="2.5"/><circle class="qf" cx="468.5" cy="686.2" r="2.5"/><circle class="qo" cx="470" cy="686.2" r="2.5"/><circle class="qo" cx="473" cy="686.2" r="2.5"/><circle class="qf" cx="474.5" cy="686.2" r="2.5"/><circle class="qf" cx="479" cy="686.2" r="2.5"/><circle class="qo" cx="479.4" cy="686.2" r="2.5"/><circle class="qf" cx="482.8" cy="686.2" r="2.5"/><circle class="qo" cx="483.5" cy="686.2" r="2.5"/><circle class="qf" cx="488" cy="686.2" r="2.5"/><circle class="qo" cx="491" cy="686.2" r="2.5"/><circle class="qo" cx="493.2" cy="686.2" r="2.5"/><circle class="qf" cx="498.5" cy="686.2" r="2.5"/><circle class="qo" cx="501.5" cy="686.2" r="2.5"/><circle class="qf" cx="503" cy="686.2" r="2.5"/><circle class="qo" cx="507.9" cy="686.2" r="2.5"/><circle class="qo" cx="510.1" cy="686.2" r="2.5"/><circle class="qf" cx="513.5" cy="686.2" r="2.5"/><circle class="qo" cx="515.8" cy="686.2" r="2.5"/><circle class="qf" cx="520.2" cy="686.2" r="2.5"/><circle class="qo" cx="521.8" cy="686.2" r="2.5"/><circle class="qf" cx="524.8" cy="686.2" r="2.5"/><circle class="qo" cx="526.2" cy="686.2" r="2.5"/><circle class="qf" cx="527" cy="686.2" r="2.5"/><circle class="qf" cx="530" cy="686.2" r="2.5"/><circle class="qo" cx="535.5" cy="686.2" r="2.5"/><circle class="qo" cx="540" cy="686.2" r="2.5"/><circle class="qf" cx="543" cy="686.2" r="2.5"/><circle class="qf" cx="547.5" cy="686.2" r="2.5"/><circle class="qf" cx="552" cy="686.2" r="2.5"/><circle class="qo" cx="556.9" cy="686.2" r="2.5"/><circle class="qo" cx="560.6" cy="686.2" r="2.5"/><circle class="qo" cx="565" cy="686.2" r="2.5"/><circle class="qf" cx="568.8" cy="686.2" r="2.5"/><circle class="qf" cx="572.5" cy="686.2" r="2.5"/><circle class="qo" cx="575" cy="686.2" r="2.5"/><circle class="qo" cx="578" cy="686.2" r="2.5"/><circle class="qo" cx="582.5" cy="686.2" r="2.5"/><circle class="qf" cx="585" cy="686.2" r="2.5"/><circle class="qf" cx="587.5" cy="686.2" r="2.5"/><circle class="qo" cx="593.8" cy="686.2" r="2.5"/><circle class="qo" cx="595" cy="686.2" r="2.5"/><circle class="qo" cx="598" cy="686.2" r="2.5"/><circle class="qf" cx="604.5" cy="686.2" r="2.5"/><circle class="qf" cx="608.1" cy="686.2" r="2.5"/><circle class="qo" cx="620" cy="686.2" r="2.5"/><circle class="qo" cx="621.9" cy="686.2" r="2.5"/><circle class="qo" cx="623.8" cy="686.2" r="2.5"/><circle class="qf" cx="635" cy="686.2" r="2.5"/><circle class="qf" cx="636.9" cy="686.2" r="2.5"/><circle class="qf" cx="638" cy="686.2" r="2.5"/><circle class="qo" cx="648.8" cy="686.2" r="2.5"/><circle class="qo" cx="651.9" cy="686.2" r="2.5"/><circle class="qo" cx="655" cy="686.2" r="2.5"/><circle class="qf" cx="663.1" cy="686.2" r="2.5"/><circle class="qf" cx="669.4" cy="686.2" r="2.5"/><circle class="qf" cx="673.1" cy="686.2" r="2.5"/><circle class="qo" cx="680.6" cy="686.2" r="2.5"/><circle class="qo" cx="683.8" cy="686.2" r="2.5"/><circle class="qo" cx="685" cy="686.2" r="2.5"/><circle class="qf" cx="695" cy="686.2" r="2.5"/><circle class="qf" cx="697.5" cy="686.2" r="2.5"/><circle class="qf" cx="700" cy="686.2" r="2.5"/><circle class="qo" cx="706.9" cy="686.2" r="2.5"/><circle class="qo" cx="711.2" cy="686.2" r="2.5"/><circle class="qo" cx="714.4" cy="686.2" r="2.5"/><circle class="qf" cx="725.3" cy="686.2" r="2.5"/><circle class="qf" cx="729" cy="686.2" r="2.5"/><circle class="qo" cx="736.2" cy="686.2" r="2.5"/><circle class="qo" cx="740" cy="686.2" r="2.5"/><circle class="qo" cx="742.5" cy="686.2" r="2.5"/><circle class="qf" cx="747.2" cy="686.2" r="2.5"/><circle class="qo" cx="753.8" cy="686.2" r="2.5"/><circle class="qo" cx="756.9" cy="686.2" r="2.5"/><circle class="qo" cx="760" cy="686.2" r="2.5"/><circle class="qf" cx="765.6" cy="686.2" r="2.5"/><circle class="qf" cx="768" cy="686.2" r="2.5"/><circle class="qf" cx="771.2" cy="686.2" r="2.5"/><circle class="qf" cx="773.8" cy="686.2" r="2.5"/><circle class="qf" cx="777.5" cy="686.2" r="2.5"/><circle class="qf" cx="778.8" cy="686.2" r="2.5"/><circle class="qo" cx="783.8" cy="686.2" r="2.5"/><circle class="qo" cx="787.5" cy="686.2" r="2.5"/><circle class="qo" cx="790" cy="686.2" r="2.5"/><circle class="qf" cx="792.5" cy="686.2" r="2.5"/><circle class="qf" cx="801.9" cy="686.2" r="2.5"/><circle class="qo" cx="811.2" cy="686.2" r="2.5"/><circle class="qo" cx="815" cy="686.2" r="2.5"/><circle class="qf" cx="832.5" cy="686.2" r="2.5"/><circle class="qf" cx="835" cy="686.2" r="2.5"/><circle class="qo" cx="843.8" cy="686.2" r="2.5"/><circle class="qo" cx="846.9" cy="686.2" r="2.5"/><circle class="qf" cx="853.8" cy="686.2" r="2.5"/><circle class="qf" cx="857.4" cy="686.2" r="2.5"/><circle class="qo" cx="869.8" cy="686.2" r="2.5"/><circle class="qo" cx="873.8" cy="686.2" r="2.5"/><circle class="qo" cx="875.6" cy="686.2" r="2.5"/><circle class="qf" cx="885.6" cy="686.2" r="2.5"/><circle class="qf" cx="888" cy="686.2" r="2.5"/><circle class="qf" cx="890.6" cy="686.2" r="2.5"/><circle class="qo" cx="897.2" cy="686.2" r="2.5"/><circle class="qo" cx="900.2" cy="686.2" r="2.5"/><circle class="qf" cx="907.9" cy="686.2" r="2.5"/><circle class="qf" cx="910.2" cy="686.2" r="2.5"/><circle class="qo" cx="918" cy="686.2" r="2.5"/><circle class="qo" cx="919.5" cy="686.2" r="2.5"/><circle class="qo" cx="922.5" cy="686.2" r="2.5"/><circle class="qf" cx="928.5" cy="686.2" r="2.5"/><circle class="qf" cx="931.9" cy="686.2" r="2.5"/><circle class="qo" cx="933.4" cy="686.2" r="2.5"/><circle class="qf" cx="935.4" cy="686.2" r="2.5"/><circle class="qo" cx="936.8" cy="686.2" r="2.5"/><circle class="qf" cx="939" cy="686.2" r="2.5"/><circle class="qo" cx="941.9" cy="686.2" r="2.5"/><circle class="qf" cx="952.2" cy="686.2" r="2.5"/><circle class="qo" cx="956.9" cy="686.2" r="2.5"/><circle class="qf" cx="960.6" cy="686.2" r="2.5"/><circle class="qo" cx="964.4" cy="686.2" r="2.5"/><circle class="qf" cx="966.8" cy="686.2" r="2.5"/><circle class="qo" cx="969" cy="686.2" r="2.5"/><circle class="qo" cx="973.9" cy="686.2" r="2.5"/><circle class="qf" cx="977.6" cy="686.2" r="2.5"/><circle class="qo" cx="986.2" cy="686.2" r="2.5"/><circle class="qo" cx="993.8" cy="686.2" r="2.5"/><circle class="qf" cx="1005.6" cy="686.2" r="2.5"/><circle class="qf" cx="1012.5" cy="686.2" r="2.5"/><circle class="qf" cx="1015.6" cy="686.2" r="2.5"/><circle class="qo" cx="1023.1" cy="686.2" r="2.5"/><circle class="qo" cx="1026" cy="686.2" r="2.5"/><circle class="qf" cx="1038.8" cy="686.2" r="2.5"/><circle class="qf" cx="1040.6" cy="686.2" r="2.5"/><circle class="qf" cx="1043.1" cy="686.2" r="2.5"/><circle class="qo" cx="1055" cy="686.2" r="2.5"/><circle class="qo" cx="1059.4" cy="686.2" r="2.5"/><circle class="qo" cx="1065.6" cy="686.2" r="2.5"/><circle class="qf" cx="1071.9" cy="686.2" r="2.5"/><circle class="qf" cx="1075.6" cy="686.2" r="2.5"/><circle class="qo" cx="1079.6" cy="686.2" r="2.5"/><circle class="qo" cx="1082" cy="686.2" r="2.5"/><circle class="qf" cx="1087.2" cy="686.2" r="2.5"/><circle class="qf" cx="1091" cy="686.2" r="2.5"/><circle class="qo" cx="1096" cy="686.2" r="2.5"/><circle class="qo" cx="1098.8" cy="686.2" r="2.5"/><circle class="qo" cx="1102.5" cy="686.2" r="2.5"/><circle class="qf" cx="1105.6" cy="686.2" r="2.5"/><circle class="qo" cx="1109.4" cy="686.2" r="2.5"/><circle class="qf" cx="1119.4" cy="686.2" r="2.5"/><circle class="qf" cx="1121.9" cy="686.2" r="2.5"/><circle class="qf" cx="1125.6" cy="686.2" r="2.5"/><circle class="qo" cx="1131.9" cy="686.2" r="2.5"/><circle class="qo" cx="1134.4" cy="686.2" r="2.5"/><circle class="qo" cx="1138.8" cy="686.2" r="2.5"/><circle class="qf" cx="1143.1" cy="686.2" r="2.5"/><circle class="qf" cx="1145.9" cy="686.2" r="2.5"/><circle class="qf" cx="1147.5" cy="686.2" r="2.5"/><circle class="qo" cx="1156.5" cy="686.2" r="2.5"/><circle class="qo" cx="1158.5" cy="686.2" r="2.5"/><circle class="qf" cx="1168.1" cy="686.2" r="2.5"/><circle class="qf" cx="1171.2" cy="686.2" r="2.5"/><circle class="qf" cx="1173.4" cy="686.2" r="2.5"/><circle class="qo" cx="1182.5" cy="686.2" r="2.5"/><circle class="qf" cx="1185" cy="686.2" r="2.5"/><circle class="qf" cx="1188.8" cy="686.2" r="2.5"/><circle class="qf" cx="1191.2" cy="686.2" r="2.5"/><circle class="qo" cx="1195" cy="686.2" r="2.5"/><circle class="qo" cx="1196.2" cy="686.2" r="2.5"/><circle class="qf" cx="1200.6" cy="686.2" r="2.5"/><circle class="qf" cx="1205.6" cy="686.2" r="2.5"/></g>
<g class="s" text-anchor="middle">
<text transform="translate(153.5 657.5) rotate(-90)">G135</text><text transform="translate(170.8 657.5) rotate(-90)">H2O2</text><text transform="translate(187.3 657.5) rotate(-90)">Oxctl</text><text transform="translate(210.5 657.5) rotate(-90)">dia15</text><text transform="translate(237.9 657.5) rotate(-90)">dia5</text><text transform="translate(267.7 657.5) rotate(-90)">C30</text><text transform="translate(296.7 657.5) rotate(-90)">LPh</text><text transform="translate(312.9 657.5) rotate(-90)">aero</text><text transform="translate(343.5 657.5) rotate(-90)">ferm</text><text transform="translate(366 657.5) rotate(-90)">M9−tran</text><text transform="translate(382.9 657.5) rotate(-90)">MG+120</text><text transform="translate(395.8 657.5) rotate(-90)">MG+60</text><text transform="translate(401.3 657.5) rotate(-90)">MG+25</text><text transform="translate(406.8 657.5) rotate(-90)">MG+10</text><text transform="translate(412.3 657.5) rotate(-90)">MG+t5</text><text transform="translate(417.8 657.5) rotate(-90)">MG+45</text><text transform="translate(423.3 657.5) rotate(-90)">MG+15</text><text transform="translate(428.8 657.5) rotate(-90)">MG+5</text><text transform="translate(433.8 657.5) rotate(-90)">MG+90</text><text transform="translate(442.3 657.5) rotate(-90)">MG−0.2</text><text transform="translate(446.8 657.5) rotate(-90)">GM−0.2</text><text transform="translate(454.3 657.5) rotate(-90)">Fru</text><text transform="translate(463.8 657.5) rotate(-90)">GM−0.2</text><text transform="translate(468.8 657.5) rotate(-90)">GM−0.1</text><text transform="translate(475.8 657.5) rotate(-90)">GM+5</text><text transform="translate(481.3 657.5) rotate(-90)">GM+15</text><text transform="translate(486.8 657.5) rotate(-90)">GM+45</text><text transform="translate(492.3 657.5) rotate(-90)">GM+90</text><text transform="translate(497.8 657.5) rotate(-90)">GM+10</text><text transform="translate(503.3 657.5) rotate(-90)">GM+25</text><text transform="translate(513.3 657.5) rotate(-90)">GM+150</text><text transform="translate(524.8 657.5) rotate(-90)">GM+60</text><text transform="translate(531.3 657.5) rotate(-90)">GM+45</text><text transform="translate(539.6 657.5) rotate(-90)">M9−exp</text><text transform="translate(561.7 657.5) rotate(-90)">Mal</text><text transform="translate(579.8 657.5) rotate(-90)">Glu</text><text transform="translate(597.8 657.5) rotate(-90)">BMM</text><text transform="translate(624 657.5) rotate(-90)">Etha</text><text transform="translate(652.1 657.5) rotate(-90)">Gly</text><text transform="translate(686.8 657.5) rotate(-90)">HiOs</text><text transform="translate(712.8 657.5) rotate(-90)">S2</text><text transform="translate(741 657.5) rotate(-90)">S4</text><text transform="translate(760.1 657.5) rotate(-90)">S5</text><text transform="translate(788.5 657.5) rotate(-90)">S7</text><text transform="translate(816 657.5) rotate(-90)">S6</text><text transform="translate(848.5 657.5) rotate(-90)">B36</text><text transform="translate(874.5 657.5) rotate(-90)">LoTm</text><text transform="translate(902 657.5) rotate(-90)">G/S</text><text transform="translate(922.8 657.5) rotate(-90)">SMMPr</text><text transform="translate(935.3 657.5) rotate(-90)">T−4.40H</text><text transform="translate(940.3 657.5) rotate(-90)">T−2.40H</text><text transform="translate(945.8 657.5) rotate(-90)">T−1.10H</text><text transform="translate(950.3 657.5) rotate(-90)">T0.0H</text><text transform="translate(962.8 657.5) rotate(-90)">T1.0H</text><text transform="translate(968.3 657.5) rotate(-90)">T2.0H</text><text transform="translate(974.8 657.5) rotate(-90)">T3.0H</text><text transform="translate(980.3 657.5) rotate(-90)">T4.0H</text><text transform="translate(991 657.5) rotate(-90)">M9−stat</text><text transform="translate(1027.9 657.5) rotate(-90)">Sw</text><text transform="translate(1060.8 657.5) rotate(-90)">LBGstat</text><text transform="translate(1085.6 657.5) rotate(-90)">M0t45</text><text transform="translate(1100.8 657.5) rotate(-90)">Lbtran</text><text transform="translate(1114.2 657.5) rotate(-90)">M40t45</text><text transform="translate(1136.7 657.5) rotate(-90)">M0t90</text><text transform="translate(1161.3 657.5) rotate(-90)">BI</text><text transform="translate(1187.3 657.5) rotate(-90)">M0t45</text><text transform="translate(1198.4 657.5) rotate(-90)">Lbexp</text><text transform="translate(1205.9 657.5) rotate(-90)">Lbexp</text>
<text transform="translate(144.2 714.2) rotate(-90)">G150</text><text transform="translate(159.2 714.2) rotate(-90)">G180</text><text transform="translate(179 714.2) rotate(-90)">Paraq</text><text transform="translate(196.9 714.2) rotate(-90)">LBGexp</text><text transform="translate(226.7 714.2) rotate(-90)">Diami</text><text transform="translate(254.3 714.2) rotate(-90)">C90</text><text transform="translate(281.7 714.2) rotate(-90)">Cold</text><text transform="translate(304.2 714.2) rotate(-90)">HPh</text><text transform="translate(331.8 714.2) rotate(-90)">nit</text><text transform="translate(360.5 714.2) rotate(-90)">GM+150</text><text transform="translate(374.8 714.2) rotate(-90)">MG+150</text><text transform="translate(392.3 714.2) rotate(-90)">MG+90</text><text transform="translate(397.8 714.2) rotate(-90)">MG+45</text><text transform="translate(403.3 714.2) rotate(-90)">MG+25</text><text transform="translate(408.8 714.2) rotate(-90)">MG+15</text><text transform="translate(414.3 714.2) rotate(-90)">MG+10</text><text transform="translate(419.8 714.2) rotate(-90)">MG+5</text><text transform="translate(425.3 714.2) rotate(-90)">MG+60</text><text transform="translate(430.8 714.2) rotate(-90)">MG+45</text><text transform="translate(437.8 714.2) rotate(-90)">MG−0.1</text><text transform="translate(443.8 714.2) rotate(-90)">MG−0.3</text><text transform="translate(459.5 714.2) rotate(-90)">Glucon</text><text transform="translate(467.8 714.2) rotate(-90)">GM−0.1</text><text transform="translate(474.3 714.2) rotate(-90)">GM+5</text><text transform="translate(479.8 714.2) rotate(-90)">GM+10</text><text transform="translate(485.3 714.2) rotate(-90)">GM+25</text><text transform="translate(490.8 714.2) rotate(-90)">GM+60</text><text transform="translate(496.3 714.2) rotate(-90)">GM+45</text><text transform="translate(502.8 714.2) rotate(-90)">GM+120</text><text transform="translate(511.3 714.2) rotate(-90)">GM+150</text><text transform="translate(521.3 714.2) rotate(-90)">GM+90</text><text transform="translate(528.8 714.2) rotate(-90)">GM+25</text><text transform="translate(534.8 714.2) rotate(-90)">GM+5</text><text transform="translate(548.1 714.2) rotate(-90)">M/G</text><text transform="translate(573.5 714.2) rotate(-90)">Fru</text><text transform="translate(589.8 714.2) rotate(-90)">SMM</text><text transform="translate(609.3 714.2) rotate(-90)">Heat</text><text transform="translate(639.8 714.2) rotate(-90)">Salt</text><text transform="translate(667.9 714.2) rotate(-90)">HiTm</text><text transform="translate(699.8 714.2) rotate(-90)">S1</text><text transform="translate(730.1 714.2) rotate(-90)">S3</text><text transform="translate(752 714.2) rotate(-90)">S3</text><text transform="translate(770.4 714.2) rotate(-90)">S6</text><text transform="translate(797.3 714.2) rotate(-90)">S8</text><text transform="translate(837.3 714.2) rotate(-90)">BT</text><text transform="translate(858.5 714.2) rotate(-90)">B60</text><text transform="translate(889 714.2) rotate(-90)">Pyr</text><text transform="translate(912.7 714.2) rotate(-90)">Glucon</text><text transform="translate(932.8 714.2) rotate(-90)">T−5.40H</text><text transform="translate(937.5 714.2) rotate(-90)">T−3.40H</text><text transform="translate(942.3 714.2) rotate(-90)">T−1.40H</text><text transform="translate(946.8 714.2) rotate(-90)">T−0.40H</text><text transform="translate(957.3 714.2) rotate(-90)">T0.30H</text><text transform="translate(962.8 714.2) rotate(-90)">T1.30H</text><text transform="translate(968.5 714.2) rotate(-90)">T2.30H</text><text transform="translate(974.1 714.2) rotate(-90)">T3.30H</text><text transform="translate(984.3 714.2) rotate(-90)">T5.0H</text><text transform="translate(1010.4 714.2) rotate(-90)">BC</text><text transform="translate(1043.5 714.2) rotate(-90)">LPhT</text><text transform="translate(1076.7 714.2) rotate(-90)">LBGtran</text><text transform="translate(1092 714.2) rotate(-90)">M40t45</text><text transform="translate(1110.4 714.2) rotate(-90)">Mt0</text><text transform="translate(1124.2 714.2) rotate(-90)">M40t90</text><text transform="translate(1147.9 714.2) rotate(-90)">Lbstat</text><text transform="translate(1172.9 714.2) rotate(-90)">S0</text><text transform="translate(1189.8 714.2) rotate(-90)">dia0</text><text transform="translate(1204.8 714.2) rotate(-90)">Mt0</text><text transform="translate(1210.4 714.2) rotate(-90)">Mt0</text>
</g>
</svg>
</body></html>
